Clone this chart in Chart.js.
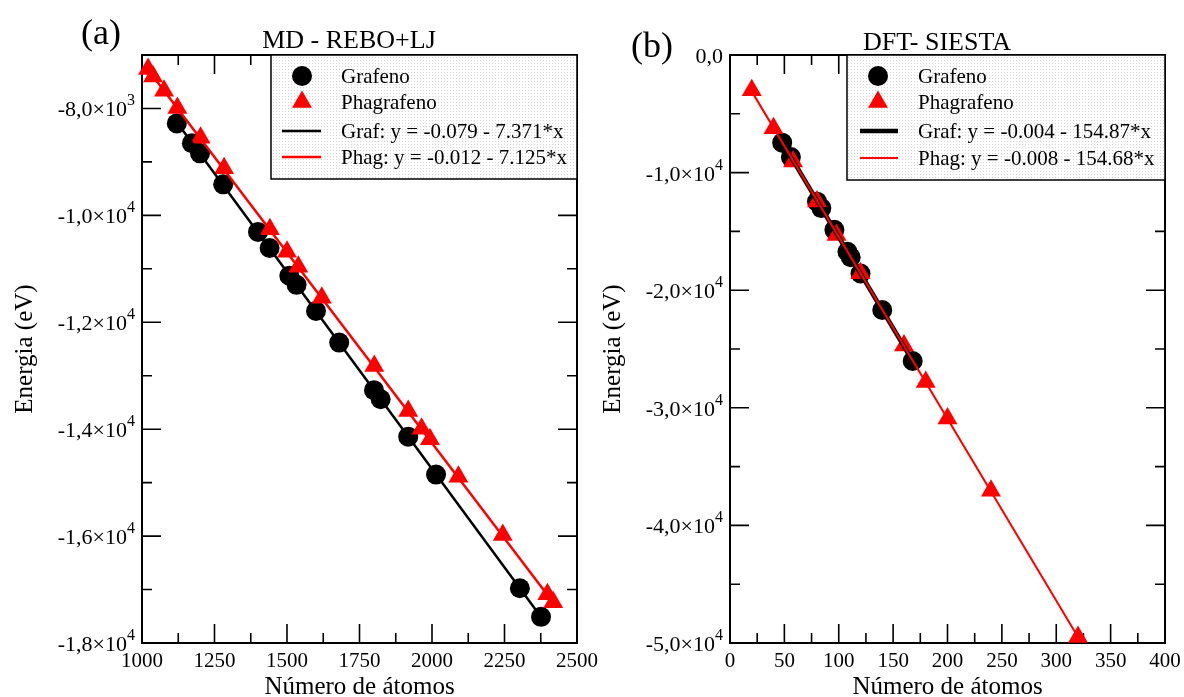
<!DOCTYPE html>
<html>
<head>
<meta charset="utf-8">
<script src="https://cdn.jsdelivr.net/npm/chart.js@4.4.0/dist/chart.umd.min.js"></script>
<style>
    html, body { margin: 0; padding: 0; background: #fff; }
    #wrap { position: relative; width: 1184px; height: 697px; overflow: hidden; }
    .panel { position: absolute; top: 0; height: 697px; }
</style>
</head>
<body>
<div id="wrap">
    <div class="panel" style="left:0;width:640px"><canvas id="chartMD"></canvas></div>
    <div class="panel" style="left:560px;width:624px"><canvas id="chartDFT"></canvas></div>
</div>
<script>
const FONT = "'Liberation Serif', 'Times New Roman', serif";

// (a) MD - REBO+LJ
const mdGrafX = [1120, 1172, 1200, 1280, 1400, 1440, 1508, 1533, 1600, 1680, 1800, 1823, 1918, 2014, 2303, 2376];
const mdGrafY = [-8280, -8650, -8840, -9420, -10310, -10610, -11130, -11300, -11790, -12380, -13270, -13440, -14140, -14850, -16975, -17510];
const mdPhagX = [1021, 1038, 1076, 1122, 1202, 1283, 1441, 1500, 1539, 1620, 1801, 1918, 1964, 1993, 2091, 2244, 2398, 2418];
const mdPhagY = [-7260, -7400, -7670, -7990, -8550, -9120, -10260, -10680, -10960, -11540, -12820, -13660, -13990, -14190, -14890, -15980, -17090, -17240];
const mdGrafFitX = [1120, 2376];
const mdGrafFitY = [-8256, -17514];
const mdPhagFitX = [1021, 2418];
const mdPhagFitY = [-7275, -17241];
const mdXTicks = [1000, 1250, 1500, 1750, 2000, 2250, 2500];
const mdYTicks = [-8000, -10000, -12000, -14000, -16000, -18000];
const mdYLabels = ['-8,0×10', '-1,0×10', '-1,2×10', '-1,4×10', '-1,6×10', '-1,8×10'];
const mdYExp = ['3', '4', '4', '4', '4', '4'];
const mdLegend = ['Grafeno', 'Phagrafeno', 'Graf: y = -0.079 - 7.371*x', 'Phag: y = -0.012 - 7.125*x'];

// (b) DFT - SIESTA
const dftGrafX = [48, 56, 80, 84, 96, 108, 111, 120, 140, 168];
const dftGrafY = [-7457, -8680, -12470, -13020, -14870, -16730, -17200, -18580, -21680, -26020];
const dftPhagX = [20, 40, 58, 80, 98, 120, 160, 180, 200, 240, 320];
const dftPhagY = [-3000, -6220, -9050, -12450, -15300, -18560, -24700, -27800, -30900, -37050, -49480];
const dftGrafFitX = [48, 168];
const dftGrafFitY = [-7434, -26018];
const dftPhagFitX = [20, 320];
const dftPhagFitY = [-3094, -49498];
const dftXTicks = [0, 50, 100, 150, 200, 250, 300, 350, 400];
const dftYTicks = [0, -10000, -20000, -30000, -40000, -50000];
const dftYLabels = ['0,0', '-1,0×10', '-2,0×10', '-3,0×10', '-4,0×10', '-5,0×10'];
const dftYExp = ['', '4', '4', '4', '4', '4'];
const dftLegend = ['Grafeno', 'Phagrafeno', 'Graf: y = -0.004 - 154.87*x', 'Phag: y = -0.008 - 154.68*x'];

const toPoints = (xs, ys) => xs.map((x, i) => ({ x: x, y: ys[i] }));

// dotted grey background of the legend box
const dotPattern = (() => {
    const c = document.createElement('canvas');
    c.width = 3; c.height = 3;
    const g = c.getContext('2d');
    g.fillStyle = '#fff';
    g.fillRect(0, 0, 3, 3);
    g.fillStyle = '#d4d4d4';
    g.fillRect(0, 0, 1, 1);
    return c;
})();

function drawMarker(ctx, style, r, x, y, color) {
    ctx.fillStyle = color;
    ctx.beginPath();
    if (style === 'triangle') {
        const s = Math.sin(Math.PI * 2 / 3) * r;
        ctx.moveTo(x, y - r);
        ctx.lineTo(x + s, y + r / 2);
        ctx.lineTo(x - s, y + r / 2);
        ctx.closePath();
    } else {
        ctx.arc(x, y, r, 0, Math.PI * 2);
    }
    ctx.fill();
}

// frame, inward ticks, tick labels, titles and legend
const axesFrame = {
    id: 'axesFrame',
    beforeDatasetsDraw(chart, args, o) {
        const { ctx, chartArea: a } = chart;
        const xs = chart.scales.x, ys = chart.scales.y;
        ctx.save();
        ctx.strokeStyle = '#000';
        ctx.lineWidth = 2;
        ctx.strokeRect(a.left, a.top, a.right - a.left, a.bottom - a.top);

        ctx.lineWidth = 1.6;
        ctx.beginPath();
        const seg = (x1, y1, x2, y2) => { ctx.moveTo(x1, y1); ctx.lineTo(x2, y2); };
        o.xTicks.forEach((v, i) => {
            const px = xs.getPixelForValue(v);
            seg(px, a.bottom, px, a.bottom - 19);
            seg(px, a.top, px, a.top + 19);
            if (i < o.xTicks.length - 1) {
                const m = xs.getPixelForValue((v + o.xTicks[i + 1]) / 2);
                seg(m, a.bottom, m, a.bottom - 10);
                seg(m, a.top, m, a.top + 10);
            }
        });
        o.yTicks.forEach((v, i) => {
            const py = ys.getPixelForValue(v);
            seg(a.left, py, a.left + 19, py);
            seg(a.right, py, a.right - 19, py);
            if (i < o.yTicks.length - 1) {
                const m = ys.getPixelForValue((v + o.yTicks[i + 1]) / 2);
                seg(a.left, m, a.left + 10, m);
                seg(a.right, m, a.right - 10, m);
            }
        });
        ctx.stroke();

        ctx.fillStyle = '#000';
        ctx.textBaseline = 'alphabetic';
        ctx.font = '21px ' + FONT;
        ctx.textAlign = 'center';
        o.xTicks.forEach((v) => ctx.fillText(String(v), xs.getPixelForValue(v), a.bottom + 24));

        o.yTicks.forEach((v, i) => {
            const py = ys.getPixelForValue(v);
            const right = a.left - 7;
            let supW = 0;
            if (o.yExp[i]) {
                ctx.font = '16px ' + FONT;
                supW = ctx.measureText(o.yExp[i]).width;
                ctx.textAlign = 'left';
                ctx.fillText(o.yExp[i], right - supW, py - 3);
            }
            ctx.font = '22px ' + FONT;
            ctx.textAlign = 'right';
            ctx.fillText(o.yLabels[i], right - supW, py + 8);
        });

        ctx.textAlign = 'center';
        ctx.font = '26px ' + FONT;
        ctx.fillText(o.title, o.titleX, o.titleY);
        ctx.font = '36px ' + FONT;
        ctx.fillText(o.letter, o.letterX, o.letterY);
        ctx.restore();
    },
    afterDatasetsDraw(chart, args, o) {
        const { ctx, chartArea: a } = chart;
        const L = o.legend;
        const bx = a.right - L.width, by = a.top;
        ctx.save();
        ctx.fillStyle = ctx.createPattern(dotPattern, 'repeat');
        ctx.fillRect(bx, by, L.width, L.height);
        ctx.strokeStyle = '#000';
        ctx.lineWidth = 1.5;
        ctx.strokeRect(bx, by, L.width, L.height);
        chart.data.datasets.forEach((ds, i) => {
            const cy = by + L.rows[i];
            if (ds.showLine) {
                ctx.strokeStyle = ds.borderColor;
                ctx.lineWidth = ds.borderWidth;
                ctx.beginPath();
                ctx.moveTo(bx + L.lineX0, cy);
                ctx.lineTo(bx + L.lineX1, cy);
                ctx.stroke();
            } else {
                drawMarker(ctx, ds.pointStyle, ds.pointRadius, bx + L.markX, cy, ds.pointBackgroundColor);
            }
            ctx.fillStyle = '#000';
            ctx.font = '21px ' + FONT;
            ctx.textAlign = 'left';
            ctx.textBaseline = 'alphabetic';
            ctx.fillText(ds.label, bx + L.textX, cy + 7);
        });
        ctx.restore();
    }
};

function makePanel(id, p) {
    const datasets = [
        { label: p.legend[0], data: toPoints(p.grafX, p.grafY), showLine: false, pointStyle: 'circle',
          pointRadius: 10, pointBackgroundColor: '#000', pointBorderWidth: 0, borderColor: '#000', order: 3, clip: false },
        { label: p.legend[1], data: toPoints(p.phagX, p.phagY), showLine: false, pointStyle: 'triangle',
          pointRadius: 11.5, pointBackgroundColor: '#ff0000', pointBorderWidth: 0, borderColor: '#ff0000', order: 2, clip: false },
        { label: p.legend[2], data: toPoints(p.grafFitX, p.grafFitY), showLine: true, borderColor: '#000',
          borderWidth: p.grafWidth, pointRadius: 0, order: 1 },
        { label: p.legend[3], data: toPoints(p.phagFitX, p.phagFitY), showLine: true, borderColor: '#ff0000',
          borderWidth: p.phagWidth, pointRadius: 0, order: 0 }
    ];
    return new Chart(document.getElementById(id), {
        type: 'scatter',
        data: { datasets: datasets },
        options: {
            responsive: true,
            maintainAspectRatio: false,
            animation: false,
            layout: { padding: { top: 55, right: p.padRight, left: 0, bottom: 0 } },
            plugins: {
                legend: { display: false },
                tooltip: { enabled: false },
                axesFrame: {
                    xTicks: p.xTicks, yTicks: p.yTicks, yLabels: p.yLabels, yExp: p.yExp,
                    title: p.title, titleX: p.titleX, titleY: p.titleY,
                    letter: p.letter, letterX: p.letterX, letterY: p.letterY,
                    legend: p.legendBox
                }
            },
            scales: {
                x: {
                    type: 'linear', min: p.xMin, max: p.xMax,
                    grid: { display: false }, border: { display: false }, ticks: { display: false },
                    title: { display: true, text: 'Número de átomos', color: '#000',
                             font: { family: FONT, size: 25, lineHeight: 0.8 }, padding: 0 },
                    afterFit: (s) => { s.height = 54; }
                },
                y: {
                    type: 'linear', min: p.yMin, max: p.yMax,
                    grid: { display: false }, border: { display: false }, ticks: { display: false },
                    title: { display: true, text: 'Energia (eV)', color: '#000',
                             font: { family: FONT, size: 25, lineHeight: 1 }, padding: { top: p.yTitlePad, bottom: 0 } },
                    afterFit: (s) => { s.width = p.yAxisWidth; }
                }
            }
        },
        plugins: [axesFrame]
    });
}

makePanel('chartMD', {
    grafX: mdGrafX, grafY: mdGrafY, phagX: mdPhagX, phagY: mdPhagY,
    grafFitX: mdGrafFitX, grafFitY: mdGrafFitY, phagFitX: mdPhagFitX, phagFitY: mdPhagFitY,
    grafWidth: 2.5, phagWidth: 2.5,
    legend: mdLegend,
    xMin: 1000, xMax: 2500, yMin: -18000, yMax: -7000,
    xTicks: mdXTicks, yTicks: mdYTicks, yLabels: mdYLabels, yExp: mdYExp,
    padRight: 63, yAxisWidth: 142, yTitlePad: 12.5,
    title: 'MD - REBO+LJ', titleX: 349, titleY: 48,
    letter: '(a)', letterX: 101, letterY: 44,
    legendBox: { width: 306, height: 124, rows: [21, 47, 76, 102], markX: 31, textX: 70, lineX0: 11, lineX1: 50 }
});

makePanel('chartDFT', {
    grafX: dftGrafX, grafY: dftGrafY, phagX: dftPhagX, phagY: dftPhagY,
    grafFitX: dftGrafFitX, grafFitY: dftGrafFitY, phagFitX: dftPhagFitX, phagFitY: dftPhagFitY,
    grafWidth: 4.5, phagWidth: 2,
    legend: dftLegend,
    xMin: 0, xMax: 400, yMin: -50000, yMax: 0,
    xTicks: dftXTicks, yTicks: dftYTicks, yLabels: dftYLabels, yExp: dftYExp,
    padRight: 19, yAxisWidth: 170, yTitlePad: 40.5,
    title: 'DFT- SIESTA', titleX: 377, titleY: 50,
    letter: '(b)', letterX: 92, letterY: 57,
    legendBox: { width: 318, height: 125, rows: [21, 47, 76, 103], markX: 31, textX: 71, lineX0: 13, lineX1: 51 }
});
</script>
</body>
</html>
